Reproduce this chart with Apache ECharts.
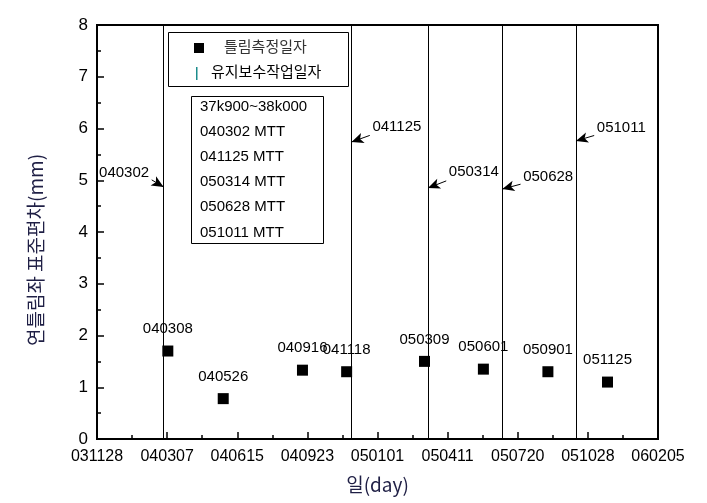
<!DOCTYPE html>
<html>
<head>
<meta charset="utf-8">
<script src="https://cdn.jsdelivr.net/npm/echarts@6/dist/echarts.min.js"></script>
<style>html,body{margin:0;padding:0;background:#fff}#c{width:707px;height:503px}</style>
</head>
<body>
<div id="c"></div>
<script>
// ---- data ----
var startDate = '031128';
var tickLabels = ['031128','040307','040615','040923','050101','050411','050720','051028','060205'];
var measureDates = ['040308','040526','040916','041118','050309','050601','050901','051125'];
var measureValues = [1.70, 0.78, 1.33, 1.30, 1.50, 1.35, 1.30, 1.10];
var mttDates = ['040302','041125','050314','050628','051011'];
var sectionLabel = '37k900~38k000';
// annotation arrows (data coords: value axis y, date for x)
var annotY = [4.87, 5.74, 4.85, 4.83, 5.76];          // where arrow meets MTT line
var annotTextY = [5.12, 5.97, 5.10, 5.00, 5.95];      // label height
var annotSide = ['left','right','right','right','right'];

function toDay(s){
  var y = 2000 + parseInt(s.slice(0,2),10), m = parseInt(s.slice(2,4),10)-1, d = parseInt(s.slice(4,6),10);
  return Date.UTC(y,m,d);
}
var t0 = toDay(startDate);
function dayOf(s){ return Math.round((toDay(s)-t0)/86400000); }

var scatterData = measureDates.map(function(d,i){ return {value:[dayOf(d), measureValues[i]], name:d}; });
var mttDays = mttDates.map(dayOf);

var arrowLines = [], annotPts = [];
mttDays.forEach(function(x,i){
  var sgn = annotSide[i]==='left' ? -1 : 1;
  var dx = annotSide[i]==='left' ? 17 : 26;
  var tailX = x + sgn*dx, tailY = annotY[i] + (annotTextY[i]-annotY[i])*0.55;
  arrowLines.push([{coord:[tailX, tailY], symbol:'none'},{coord:[x, annotY[i]], symbol:'arrow', symbolSize:[8,12]}]);
  annotPts.push({value:[tailX + sgn*3, annotTextY[i]], name:mttDates[i],
    label:{position: annotSide[i]==='left'?'left':'right', distance:0, offset:[0, annotSide[i]==='left'?-1:-3]}});
});

var chart = echarts.init(document.getElementById('c'), null, {renderer:'canvas'});
var numFont = 'Liberation Sans, Arial, sans-serif';
var krFont = '"Noto Sans CJK KR", sans-serif';

var boxLines = [sectionLabel].concat(mttDates.map(function(d){return d+' MTT';}));
var graphics = [
  {type:'rect', left:168, top:32, shape:{width:180, height:54}, style:{fill:'#fff', stroke:'#000', lineWidth:1}, z:100},
  {type:'rect', left:194, top:43, shape:{width:10, height:10}, style:{fill:'#000'}, z:101},
  {type:'text', left:224, top:39, style:{text:'틀림측정일자', font:'15px '+krFont, fill:'#333'}, z:101},
  {type:'rect', left:196, top:67, shape:{width:1.5, height:13}, style:{fill:'#1c8c8c'}, z:101},
  {type:'text', left:211, top:64, style:{text:'유지보수작업일자', font:'15px '+krFont, fill:'#000'}, z:101},
  {type:'rect', left:191, top:96, shape:{width:132, height:147}, style:{fill:'#fff', stroke:'#000', lineWidth:1}, z:100}
];
boxLines.forEach(function(t,i){
  graphics.push({type:'text', left:200, top:99 + i*25.2, style:{text:t, font:'15px '+numFont, fill:'#000'}, z:101});
});
graphics.push({type:'text', rotation:Math.PI/2, x:36, y:250, style:{text:'연틀림좌 표준편차(mm)', font:'19px '+krFont, fill:'#1f1f45', align:'center', verticalAlign:'middle'}, z:101});

chart.setOption({
  animation:false,
  backgroundColor:'#fff',
  grid:{left:97, right:49, top:25, bottom:64, show:true, borderColor:'#000', borderWidth:2, backgroundColor:'transparent'},
  xAxis:{
    type:'value', min:0, max:800, interval:100,
    name:'일(day)', nameLocation:'middle', nameGap:36,
    nameTextStyle:{fontFamily:krFont, fontSize:19, color:'#1f1f45'},
    axisLine:{show:true, lineStyle:{color:'#000', width:2}},
    axisTick:{show:true, inside:true, length:7, lineStyle:{color:'#000', width:1.5}},
    minorTick:{show:true, splitNumber:2, length:4, lineStyle:{color:'#000', width:1.5}},
    axisLabel:{fontFamily:numFont, fontSize:16, color:'#000', margin:10, formatter:function(v){ return tickLabels[Math.round(v/100)]; }},
    splitLine:{show:false}
  },
  yAxis:{
    type:'value', min:0, max:8, interval:1,
    axisLine:{show:true, lineStyle:{color:'#000', width:2}},
    axisTick:{show:true, inside:true, length:7, lineStyle:{color:'#000', width:1.5}},
    minorTick:{show:true, splitNumber:2, length:4, lineStyle:{color:'#000', width:1.5}},
    axisLabel:{fontFamily:numFont, fontSize:17, color:'#000', margin:9},
    splitLine:{show:false}
  },
  graphic: graphics,
  series:[
    {
      type:'scatter', name:'틀림측정일자', data:scatterData, symbol:'rect', symbolSize:11,
      itemStyle:{color:'#000', opacity:1}, z:5,
      label:{show:true, position:'top', distance:9, formatter:function(p){return p.name;}, fontFamily:numFont, fontSize:15, color:'#000'},
      markLine:{
        silent:true, symbol:'none', animation:false,
        lineStyle:{color:'#000', width:1, type:'solid', opacity:1},
        label:{show:false},
        data: mttDays.map(function(x){ return {xAxis:x}; })
      }
    },
    {
      type:'scatter', name:'annot', data:annotPts, symbolSize:1, z:6,
      itemStyle:{color:'#fff', opacity:1},
      label:{show:true, formatter:function(p){return p.name;}, fontFamily:numFont, fontSize:15, color:'#000', opacity:1},
      markLine:{
        silent:true, animation:false,
        lineStyle:{color:'#000', width:1, type:'solid', opacity:1},
        itemStyle:{color:'#000'},
        label:{show:false},
        data: arrowLines
      }
    }
  ]
});
</script>
</body>
</html>
